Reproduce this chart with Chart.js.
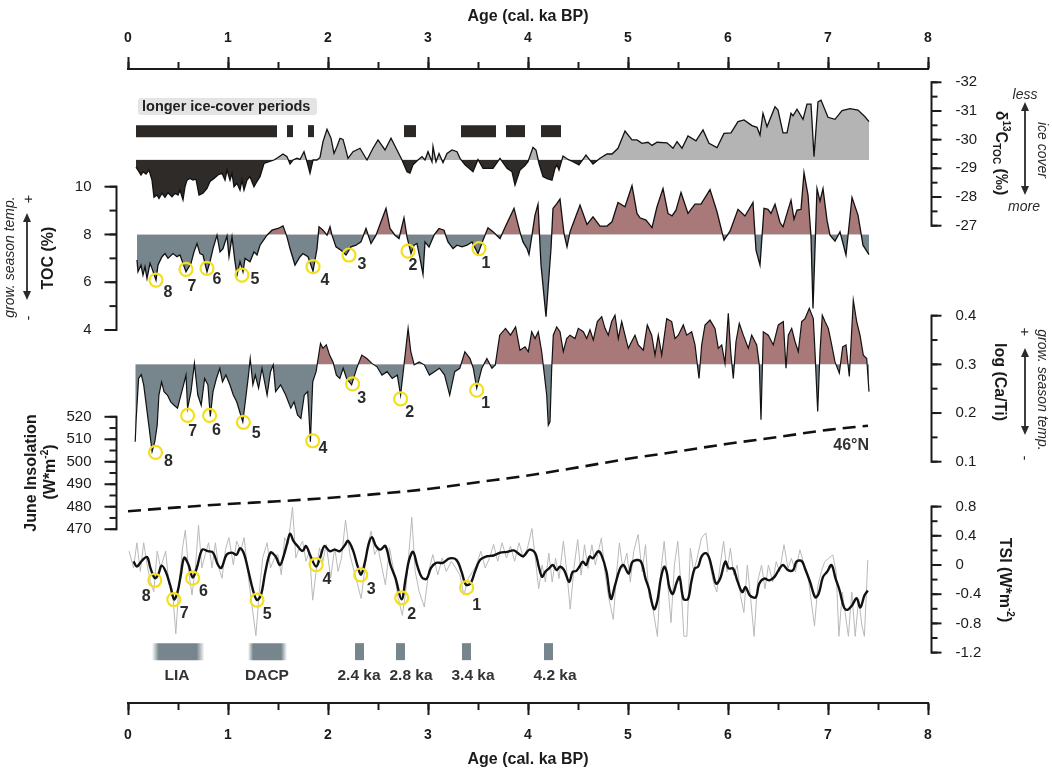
<!DOCTYPE html>
<html>
<head>
<meta charset="utf-8">
<title>Holocene ice cover, TOC, Ca/Ti, insolation and TSI</title>
<script src="https://cdn.jsdelivr.net/npm/chart.js@4.4.1/dist/chart.umd.min.js"></script>
<style>
  html, body { margin: 0; padding: 0; background: #fff; }
</style>
</head>
<body>
<canvas id="chart" width="1052" height="768"></canvas>
<script>
// --- values, age in cal. ka BP ---

// d13C TOC (permil), axis reversed
const d13c = [[0.08,-29.04],[0.10,-28.94],[0.13,-28.77],[0.15,-28.88],[0.18,-28.80],[0.21,-28.94],[0.24,-28.59],[0.26,-27.99],[0.29,-28.07],[0.31,-27.95],[0.34,-28.13],[0.37,-27.99],[0.40,-28.15],[0.44,-28.01],[0.47,-28.13],[0.50,-28.07],[0.52,-28.24],[0.55,-27.90],[0.57,-28.36],[0.59,-28.59],[0.62,-28.65],[0.65,-28.59],[0.68,-28.62],[0.71,-28.07],[0.75,-28.13],[0.79,-28.30],[0.82,-28.54],[0.86,-28.65],[0.90,-28.77],[0.94,-28.83],[0.97,-28.59],[0.99,-28.94],[1.02,-28.59],[1.04,-28.83],[1.06,-28.36],[1.09,-28.48],[1.12,-28.24],[1.14,-28.59],[1.16,-28.24],[1.19,-28.59],[1.22,-28.71],[1.26,-28.36],[1.29,-28.54],[1.32,-28.71],[1.36,-29.17],[1.41,-29.23],[1.46,-29.29],[1.50,-29.38],[1.55,-29.50],[1.59,-29.41],[1.62,-29.15],[1.65,-29.29],[1.69,-29.35],[1.72,-29.31],[1.76,-29.58],[1.79,-29.23],[1.82,-28.83],[1.85,-29.29],[1.89,-29.29],[1.92,-29.38],[1.95,-29.93],[1.99,-30.36],[2.03,-30.05],[2.06,-29.52],[2.09,-29.76],[2.12,-30.05],[2.15,-30.01],[2.17,-29.76],[2.20,-29.35],[2.25,-29.58],[2.32,-29.70],[2.39,-29.29],[2.45,-29.70],[2.50,-29.99],[2.57,-29.64],[2.63,-30.05],[2.69,-29.64],[2.74,-29.29],[2.79,-28.88],[2.82,-28.83],[2.85,-29.12],[2.90,-29.29],[2.94,-29.41],[2.97,-29.29],[3.00,-29.58],[3.04,-29.23],[3.05,-29.76],[3.08,-29.23],[3.11,-29.52],[3.15,-29.20],[3.19,-29.52],[3.24,-29.64],[3.29,-29.58],[3.32,-29.35],[3.37,-29.12],[3.45,-28.88],[3.50,-29.31],[3.55,-29.00],[3.65,-29.00],[3.72,-29.35],[3.79,-29.00],[3.84,-28.88],[3.87,-28.42],[3.92,-28.94],[3.97,-29.10],[4.00,-29.23],[4.05,-29.73],[4.08,-29.64],[4.11,-29.17],[4.15,-28.71],[4.19,-28.64],[4.24,-28.59],[4.27,-29.00],[4.29,-29.12],[4.31,-28.94],[4.35,-29.43],[4.40,-29.31],[4.45,-29.23],[4.51,-29.12],[4.58,-29.46],[4.65,-29.15],[4.72,-29.35],[4.79,-29.50],[4.84,-29.50],[4.90,-29.70],[4.97,-30.30],[5.04,-29.99],[5.09,-29.99],[5.14,-29.87],[5.20,-29.91],[5.24,-29.80],[5.29,-29.91],[5.39,-29.89],[5.45,-29.70],[5.49,-29.93],[5.54,-29.70],[5.60,-30.13],[5.68,-29.96],[5.75,-30.34],[5.81,-29.87],[5.89,-29.72],[5.96,-30.22],[6.03,-30.24],[6.10,-30.63],[6.16,-30.69],[6.24,-30.49],[6.29,-30.43],[6.32,-30.16],[6.35,-30.92],[6.39,-30.45],[6.47,-31.15],[6.50,-31.03],[6.55,-30.24],[6.59,-30.24],[6.63,-30.92],[6.65,-30.83],[6.69,-31.06],[6.75,-30.71],[6.79,-31.24],[6.83,-31.24],[6.86,-29.41],[6.90,-31.32],[6.93,-31.38],[7.00,-30.78],[7.07,-30.71],[7.14,-31.01],[7.22,-31.08],[7.30,-31.03],[7.37,-30.80],[7.41,-30.63]];
const d13cBase = -29.3;

// longer ice-cover periods (start, end)
const iceCover = [[0.08,1.49],[1.59,1.65],[1.80,1.86],[2.76,2.88],[3.33,3.68],[3.78,3.97],[4.13,4.33]];

// TOC (%)
const toc = [[0.09,6.93],[0.10,6.44],[0.13,6.72],[0.15,6.30],[0.17,6.65],[0.19,6.16],[0.22,6.79],[0.24,6.58],[0.28,6.09],[0.30,6.72],[0.34,7.07],[0.37,7.20],[0.40,7.00],[0.45,7.20],[0.49,7.07],[0.52,7.14],[0.55,6.79],[0.58,6.44],[0.63,6.79],[0.66,7.27],[0.69,7.62],[0.72,7.20],[0.75,7.14],[0.79,6.44],[0.82,6.86],[0.85,7.41],[0.89,7.97],[0.92,7.27],[0.95,7.41],[0.99,7.94],[1.01,7.07],[1.04,7.90],[1.07,6.86],[1.09,6.30],[1.12,6.86],[1.15,6.44],[1.17,7.00],[1.22,6.86],[1.26,7.27],[1.29,7.14],[1.32,7.55],[1.39,7.97],[1.44,8.18],[1.50,8.25],[1.55,8.36],[1.59,7.90],[1.62,7.41],[1.67,6.72],[1.72,7.07],[1.75,7.20],[1.80,7.07],[1.85,6.47],[1.89,7.41],[1.91,8.32],[1.95,8.18],[1.99,7.97],[2.02,8.32],[2.04,7.97],[2.08,7.48],[2.13,7.34],[2.18,7.14],[2.23,7.48],[2.28,7.55],[2.33,7.69],[2.38,8.25],[2.43,7.62],[2.48,7.97],[2.53,8.53],[2.58,9.09],[2.62,8.25],[2.67,7.97],[2.71,7.83],[2.76,8.70],[2.79,7.90],[2.83,7.20],[2.86,7.55],[2.89,7.62],[2.92,7.00],[2.95,6.33],[2.97,7.69],[3.01,7.48],[3.06,7.97],[3.11,8.25],[3.16,8.18],[3.20,7.69],[3.25,7.41],[3.29,7.55],[3.34,7.48],[3.39,7.55],[3.44,7.69],[3.50,7.20],[3.55,7.76],[3.60,8.28],[3.65,8.11],[3.72,7.83],[3.78,8.39],[3.86,9.09],[3.92,8.10],[3.95,7.69],[3.99,7.41],[4.01,7.16],[4.04,7.97],[4.07,8.81],[4.10,9.26],[4.13,6.72],[4.18,4.56],[4.23,7.41],[4.25,9.09],[4.29,9.30],[4.32,9.48],[4.36,8.04],[4.39,7.48],[4.42,8.11],[4.47,8.67],[4.52,9.23],[4.59,8.42],[4.65,8.74],[4.72,8.35],[4.79,8.35],[4.84,8.53],[4.90,9.34],[4.97,9.16],[5.04,10.04],[5.09,8.88],[5.12,8.70],[5.18,8.60],[5.24,8.29],[5.29,9.16],[5.35,9.92],[5.40,8.88],[5.44,8.78],[5.48,9.02],[5.53,9.76],[5.60,8.88],[5.67,9.27],[5.73,9.27],[5.82,9.88],[5.89,8.95],[5.96,7.76],[6.02,8.14],[6.10,9.05],[6.17,8.77],[6.25,9.34],[6.28,7.34],[6.32,6.72],[6.36,9.09],[6.40,9.05],[6.43,8.88],[6.47,9.27],[6.52,8.50],[6.55,8.32],[6.63,9.44],[6.66,8.64],[6.69,9.02],[6.73,9.05],[6.76,10.59],[6.80,9.65],[6.83,7.90],[6.85,4.90],[6.89,9.92],[6.92,9.39],[6.95,9.92],[6.99,8.60],[7.02,7.97],[7.07,7.72],[7.12,8.11],[7.18,7.14],[7.24,9.55],[7.30,8.81],[7.35,7.55],[7.41,7.16]];
const tocBase = 8;

// log (Ca/Ti)
const caTi = [[0.072,0.141],[0.082,0.189],[0.106,0.271],[0.133,0.279],[0.157,0.258],[0.208,0.175],[0.241,0.121],[0.268,0.141],[0.292,0.175],[0.309,0.237],[0.336,0.264],[0.36,0.244],[0.394,0.237],[0.427,0.223],[0.461,0.216],[0.495,0.21],[0.529,0.237],[0.563,0.264],[0.58,0.278],[0.596,0.21],[0.63,0.244],[0.664,0.302],[0.698,0.237],[0.732,0.216],[0.766,0.271],[0.799,0.258],[0.823,0.193],[0.85,0.244],[0.884,0.271],[0.918,0.292],[0.945,0.264],[0.979,0.278],[1.019,0.258],[1.053,0.237],[1.087,0.223],[1.127,0.196],[1.148,0.182],[1.181,0.237],[1.205,0.278],[1.222,0.312],[1.249,0.258],[1.273,0.278],[1.306,0.251],[1.34,0.292],[1.391,0.237],[1.425,0.285],[1.452,0.299],[1.476,0.244],[1.526,0.258],[1.577,0.237],[1.628,0.21],[1.661,0.223],[1.695,0.196],[1.729,0.189],[1.763,0.237],[1.797,0.244],[1.824,0.141],[1.847,0.264],[1.881,0.285],[1.925,0.343],[1.949,0.333],[1.983,0.34],[2.016,0.319],[2.05,0.305],[2.084,0.278],[2.118,0.271],[2.152,0.292],[2.186,0.271],[2.236,0.258],[2.287,0.292],[2.338,0.319],[2.388,0.312],[2.439,0.302],[2.49,0.295],[2.54,0.278],[2.591,0.285],[2.642,0.271],[2.693,0.278],[2.726,0.237],[2.76,0.299],[2.801,0.374],[2.828,0.326],[2.862,0.299],[2.912,0.305],[2.963,0.299],[3.014,0.278],[3.064,0.285],[3.115,0.292],[3.166,0.278],[3.217,0.237],[3.267,0.285],[3.318,0.292],[3.369,0.326],[3.42,0.312],[3.453,0.292],[3.487,0.251],[3.538,0.292],[3.589,0.312],[3.639,0.292],[3.673,0.299],[3.717,0.36],[3.775,0.374],[3.825,0.36],[3.876,0.377],[3.92,0.329],[3.97,0.336],[4.003,0.326],[4.037,0.367],[4.07,0.353],[4.103,0.367],[4.137,0.326],[4.16,0.285],[4.187,0.237],[4.203,0.175],[4.22,0.182],[4.237,0.292],[4.253,0.36],[4.287,0.377],[4.32,0.367],[4.353,0.326],[4.387,0.353],[4.42,0.36],[4.47,0.353],[4.503,0.374],[4.553,0.367],[4.587,0.353],[4.62,0.371],[4.653,0.35],[4.693,0.388],[4.737,0.398],[4.77,0.374],[4.803,0.36],[4.837,0.388],[4.87,0.401],[4.903,0.353],[4.937,0.388],[4.97,0.36],[5.003,0.333],[5.037,0.347],[5.07,0.36],[5.103,0.34],[5.153,0.329],[5.193,0.381],[5.237,0.36],[5.27,0.319],[5.303,0.36],[5.337,0.319],[5.387,0.394],[5.437,0.388],[5.47,0.353],[5.503,0.36],[5.553,0.381],[5.587,0.36],[5.637,0.367],[5.67,0.34],[5.71,0.271],[5.737,0.34],[5.77,0.381],[5.82,0.391],[5.87,0.374],[5.903,0.333],[5.937,0.34],[5.97,0.302],[6.003,0.405],[6.027,0.326],[6.053,0.271],[6.08,0.347],[6.113,0.384],[6.153,0.36],[6.203,0.333],[6.237,0.36],[6.287,0.34],[6.313,0.299],[6.33,0.186],[6.353,0.367],[6.403,0.36],[6.453,0.34],[6.503,0.381],[6.553,0.388],[6.58,0.292],[6.603,0.36],[6.637,0.374],[6.67,0.347],[6.703,0.326],[6.737,0.388],[6.77,0.394],[6.813,0.415],[6.853,0.394],[6.87,0.326],[6.897,0.203],[6.92,0.326],[6.943,0.401],[6.97,0.388],[7.003,0.374],[7.037,0.34],[7.07,0.305],[7.113,0.282],[7.147,0.336],[7.18,0.34],[7.213,0.275],[7.253,0.432],[7.287,0.388],[7.32,0.36],[7.353,0.319],[7.387,0.312],[7.41,0.244]];
const caTiBase = 0.3;

// June insolation at 46°N (W m-2)
const insAge = [0, 0.5, 1, 1.5, 2, 2.5, 3, 3.5, 4, 4.5, 5, 5.5, 6, 6.5, 7, 7.4];
const insVal = [478, 479.7, 481.2, 482.4, 483.9, 485.7, 487.9, 490.9, 493.9, 497.5, 501.3, 504.6, 508, 511, 514.2, 516];

// TSI anomaly (W m-2): raw (grey) and smoothed (black)
const tsiRaw = [[0.011,0.19],[0.055,-0.04],[0.089,0.305],[0.123,-0.088],[0.157,0.305],[0.191,0.004],[0.224,-0.227],[0.258,-0.366],[0.292,0.19],[0.326,-0.04],[0.377,0.19],[0.41,-0.273],[0.444,-0.32],[0.478,-0.945],[0.512,-0.227],[0.546,0.236],[0.573,0.477],[0.607,-0.088],[0.64,-0.412],[0.674,-0.04],[0.705,0.546],[0.738,-0.04],[0.772,0.143],[0.806,0.305],[0.84,-0.04],[0.874,0.305],[0.907,-0.04],[0.941,-0.181],[0.975,0.213],[1.009,0.375],[1.053,0.004],[1.087,0.328],[1.127,0.19],[1.161,0.375],[1.205,-0.181],[1.239,-0.551],[1.279,-0.968],[1.313,-0.366],[1.347,0.097],[1.391,0.305],[1.425,-0.04],[1.465,0.097],[1.499,0.143],[1.533,-0.135],[1.567,0.375],[1.601,0.282],[1.645,0.792],[1.678,0.097],[1.712,0.236],[1.746,0.328],[1.78,0.051],[1.814,0.19],[1.847,-0.482],[1.881,-0.088],[1.915,0.236],[1.949,0.051],[1.983,0.282],[2.027,-0.181],[2.067,0.236],[2.101,-0.088],[2.135,0.097],[2.175,0.616],[2.219,0.143],[2.253,-0.04],[2.297,-0.273],[2.331,-0.459],[2.365,-0.088],[2.399,0.282],[2.432,0.467],[2.466,0.143],[2.5,0.236],[2.534,0.004],[2.574,-0.273],[2.615,0.236],[2.659,-0.088],[2.703,-0.459],[2.743,-0.69],[2.777,-0.366],[2.838,0.653],[2.872,-0.088],[2.912,-0.366],[2.963,-0.575],[3.007,-0.088],[3.048,0.143],[3.098,-0.135],[3.142,0.097],[3.183,-0.088],[3.234,0.051],[3.277,-0.04],[3.318,-0.135],[3.359,-0.412],[3.403,-0.181],[3.447,-0.088],[3.487,0.004],[3.528,0.19],[3.572,-0.04],[3.616,0.097],[3.656,0.282],[3.697,0.051],[3.741,0.305],[3.785,0.097],[3.825,0.259],[3.866,0.051],[3.91,0.305],[3.954,0.097],[3.995,0.232],[4.039,0.5],[4.073,0.093],[4.107,-0.326],[4.141,0.0],[4.174,-0.233],[4.208,0.162],[4.242,-0.233],[4.276,0.093],[4.31,-0.186],[4.354,0.325],[4.388,-0.093],[4.422,-0.605],[4.463,0.0],[4.497,0.348],[4.531,-0.14],[4.565,0.278],[4.599,-0.047],[4.639,0.278],[4.673,0.0],[4.734,0.371],[4.768,-0.093],[4.809,-0.465],[4.853,-0.744],[4.887,-0.093],[4.914,0.302],[4.948,-0.047],[4.989,0.162],[5.023,-0.233],[5.057,0.186],[5.101,0.418],[5.141,-0.093],[5.175,0.278],[5.209,-0.419],[5.25,-0.605],[5.294,-0.977],[5.328,-0.093],[5.362,0.325],[5.396,-0.233],[5.43,-0.79],[5.464,0.0],[5.498,0.325],[5.532,-0.326],[5.559,-0.977],[5.589,-0.977],[5.623,0.232],[5.657,-0.093],[5.691,0.093],[5.735,0.371],[5.779,0.441],[5.813,0.046],[5.854,-0.233],[5.888,-0.372],[5.922,0.0],[5.956,0.325],[5.99,-0.093],[6.024,0.232],[6.058,-0.14],[6.092,0.0],[6.125,-0.419],[6.159,-0.651],[6.193,0.0],[6.227,-0.465],[6.261,-0.977],[6.295,-0.233],[6.336,0.0],[6.37,-0.326],[6.404,0.0],[6.448,-0.233],[6.482,0.046],[6.516,-0.093],[6.56,0.278],[6.6,-0.047],[6.634,0.093],[6.675,-0.093],[6.719,0.209],[6.763,0.0],[6.804,-0.186],[6.838,-0.558],[6.865,-0.837],[6.899,-0.279],[6.933,-0.093],[6.967,0.046],[7.008,0.093],[7.048,0.139],[7.082,-0.093],[7.109,-0.977],[7.143,-0.372],[7.171,-0.651],[7.204,-0.977],[7.238,-0.372],[7.272,-0.977],[7.306,-0.465],[7.34,-0.837],[7.364,-0.977],[7.398,0.069]];
const tsiSmooth = [[0.055,0.05],[0.089,-0.02],[0.14,0.06],[0.19,0.11],[0.224,-0.04],[0.268,-0.18],[0.302,-0.13],[0.336,-0.01],[0.377,-0.09],[0.42,-0.27],[0.461,-0.47],[0.495,-0.37],[0.529,-0.13],[0.562,0.10],[0.606,0.0],[0.647,-0.17],[0.688,-0.04],[0.742,0.21],[0.799,0.19],[0.85,0.17],[0.9,0.0],[0.934,-0.04],[0.985,0.14],[1.036,0.17],[1.086,0.14],[1.12,0.23],[1.161,0.15],[1.205,-0.09],[1.249,-0.34],[1.289,-0.48],[1.33,-0.41],[1.374,-0.09],[1.425,0.17],[1.475,0.12],[1.519,0.0],[1.56,0.14],[1.594,0.31],[1.621,0.43],[1.654,0.33],[1.695,0.26],[1.746,0.19],[1.78,0.26],[1.823,0.13],[1.881,-0.02],[1.925,0.12],[1.965,0.26],[2.016,0.19],[2.067,0.21],[2.118,0.19],[2.168,0.27],[2.202,0.33],[2.253,0.19],[2.297,-0.02],[2.331,-0.13],[2.371,0.05],[2.405,0.28],[2.439,0.38],[2.479,0.26],[2.523,0.21],[2.574,0.26],[2.625,0.0],[2.675,-0.18],[2.736,-0.47],[2.777,-0.18],[2.811,0.07],[2.851,0.18],[2.895,-0.02],[2.939,-0.17],[2.986,-0.19],[3.03,-0.04],[3.081,0.03],[3.149,0.03],[3.216,0.09],[3.284,0.07],[3.335,-0.09],[3.379,-0.27],[3.426,-0.25],[3.47,-0.09],[3.521,0.07],[3.588,0.12],[3.656,0.13],[3.723,0.17],[3.791,0.18],[3.859,0.20],[3.92,0.14],[3.954,0.12],[4.015,0.21],[4.073,0.16],[4.107,-0.02],[4.141,-0.16],[4.174,-0.09],[4.208,-0.05],[4.249,0.0],[4.286,-0.07],[4.32,-0.024],[4.361,-0.07],[4.412,-0.233],[4.446,-0.093],[4.48,-0.084],[4.514,-0.024],[4.548,0.046],[4.582,0.0],[4.616,0.116],[4.65,0.093],[4.70,0.186],[4.734,0.139],[4.785,-0.093],[4.829,-0.465],[4.87,-0.279],[4.921,-0.047],[4.955,0.0],[5.006,-0.117],[5.047,0.046],[5.125,0.055],[5.175,-0.186],[5.209,-0.326],[5.26,-0.605],[5.294,-0.488],[5.328,-0.186],[5.362,-0.024],[5.386,-0.093],[5.413,-0.303],[5.447,-0.396],[5.488,-0.233],[5.515,-0.163],[5.555,-0.465],[5.6,-0.465],[5.633,-0.233],[5.667,-0.047],[5.701,-0.024],[5.735,0.116],[5.779,0.162],[5.813,0.093],[5.847,-0.093],[5.881,-0.256],[5.922,-0.186],[5.973,0.046],[6.007,-0.047],[6.051,-0.047],[6.092,-0.21],[6.142,-0.372],[6.176,-0.303],[6.22,-0.419],[6.278,-0.442],[6.312,-0.256],[6.363,-0.186],[6.414,-0.21],[6.465,-0.163],[6.516,-0.047],[6.55,0.0],[6.6,-0.07],[6.651,-0.07],[6.685,0.046],[6.736,0.055],[6.77,-0.047],[6.821,-0.233],[6.872,-0.442],[6.906,-0.396],[6.95,-0.163],[6.991,-0.093],[7.035,0.0],[7.076,-0.186],[7.116,-0.349],[7.16,-0.581],[7.194,-0.614],[7.238,-0.558],[7.286,-0.456],[7.323,-0.581],[7.364,-0.419],[7.398,-0.349]];

// numbered cold events (yellow circles) and where their numbers sit
const eventNames = ['8', '7', '6', '5', '4', '3', '2', '1'];
const tocEvents = [[0.28,6.09],[0.58,6.54],[0.79,6.58],[1.14,6.30],[1.85,6.65],[2.21,7.14],[2.80,7.30],[3.51,7.41]];
const tocEventLabels = [[0.40,5.58],[0.64,5.81],[0.89,6.09],[1.27,6.09],[1.97,6.06],[2.34,6.72],[2.85,6.68],[3.58,6.79]];
const caTiEvents = [[0.275,0.119],[0.596,0.195],[0.816,0.195],[1.154,0.181],[1.847,0.143],[2.246,0.26],[2.726,0.229],[3.487,0.247]];
const caTiEventLabels = [[0.404,0.10],[0.647,0.162],[0.884,0.163],[1.283,0.158],[1.949,0.126],[2.338,0.23],[2.818,0.20],[3.578,0.219]];
const tsiEvents = [[0.268,-0.209],[0.458,-0.473],[0.647,-0.181],[1.29,-0.482],[1.881,0.004],[2.327,-0.135],[2.737,-0.449],[3.386,-0.31]];
const tsiEventLabels = [[0.181,-0.426],[0.563,-0.667],[0.755,-0.366],[1.391,-0.681],[1.99,-0.204],[2.432,-0.343],[2.838,-0.681],[3.487,-0.551]];

// cold periods at the bottom
const periods = [[0.24,0.765],[1.20,1.59],[2.27,2.36],[2.68,2.77],[3.34,3.43],[4.16,4.25]];
const periodNames = ['LIA', 'DACP', '2.4 ka', '2.8 ka', '3.4 ka', '4.2 ka'];
const periodLabelAge = [0.49, 1.39, 2.31, 2.83, 3.45, 4.27];
const periodFade = [true, true, false, false, false, false];

// axis ticks
const ageTicks = [0, 1, 2, 3, 4, 5, 6, 7, 8];
const tocTicks = [4, 6, 8, 10];
const insTicks = [470, 480, 490, 500, 510, 520];
const d13Ticks = [-32, -31, -30, -29, -28, -27];
const caTiTicks = [0.1, 0.2, 0.3, 0.4];
const tsiTicks = [-1.2, -0.8, -0.4, 0, 0.4, 0.8];

// --- layout and styles ---
const FONT = '"Liberation Sans", Arial, Helvetica, sans-serif';
const INK = '#1b1b1b';
const AREA = { left: 128, right: 928, top: 69, bottom: 703 };
const LEFT_AXIS_X = 116.5;
const RIGHT_AXIS_X = 931.5;
const WARM = '#a97878';
const COLD = '#77858c';
const YELLOW = '#f3df1d';
const ICE_LEVEL = 0.902;    // position on the hidden band scale
const PERIOD_LEVEL = 0.081;

// each panel's own y scale, laid over the same chart area:
// the range is found from two tick positions of that panel
function fitScale(v1, y1, v2, y2) {
  const r = (v2 - v1) / (y2 - y1);
  const vTop = v1 + (AREA.top - y1) * r;
  const vBot = v1 + (AREA.bottom - y1) * r;
  return vTop > vBot
    ? { type: 'linear', display: false, min: vBot, max: vTop, reverse: false }
    : { type: 'linear', display: false, min: vTop, max: vBot, reverse: true };
}

const pts = arr => arr.map(p => ({ x: p[0], y: p[1] }));

const datasets = [];

datasets.push({
  data: pts(d13c), yAxisID: 'yD13', order: 8,
  borderColor: '#111', borderWidth: 1.3, pointRadius: 0, tension: 0,
  fill: { target: { value: d13cBase }, above: '#b4b4b4', below: '#2e2b29' }
});
datasets.push({
  data: pts(toc), yAxisID: 'yToc', order: 7,
  borderColor: '#111', borderWidth: 1.3, pointRadius: 0, tension: 0,
  fill: { target: { value: tocBase }, above: WARM, below: COLD }
});
datasets.push({
  data: pts(caTi), yAxisID: 'yCaTi', order: 6,
  borderColor: '#111', borderWidth: 1.2, pointRadius: 0, tension: 0,
  fill: { target: { value: caTiBase }, above: WARM, below: COLD }
});
datasets.push({
  data: insAge.map((a, i) => ({ x: a, y: insVal[i] })), yAxisID: 'yIns', order: 5,
  borderColor: '#111', borderWidth: 2.6, borderDash: [13, 7], pointRadius: 0,
  cubicInterpolationMode: 'monotone', fill: false
});
datasets.push({
  data: pts(tsiRaw), yAxisID: 'yTsi', order: 4,
  borderColor: '#b9b9b9', borderWidth: 1, pointRadius: 0, tension: 0, fill: false
});
datasets.push({
  data: pts(tsiSmooth), yAxisID: 'yTsi', order: 3,
  borderColor: '#111', borderWidth: 2.4, pointRadius: 0, tension: 0.35, fill: false
});

iceCover.forEach(([a, b]) => datasets.push({
  data: [{ x: a, y: ICE_LEVEL }, { x: b, y: ICE_LEVEL }], yAxisID: 'yBand', order: 2,
  borderColor: '#2b2826', borderWidth: 12, borderCapStyle: 'butt', pointRadius: 0, fill: false
}));

periods.forEach(([a, b], i) => datasets.push({
  data: [{ x: a, y: PERIOD_LEVEL }, { x: b, y: PERIOD_LEVEL }], yAxisID: 'yBand', order: 2,
  borderWidth: 17, borderCapStyle: 'butt', pointRadius: 0, fill: false,
  borderColor(ctx) {
    const chart = ctx.chart;
    if (!periodFade[i] || !chart.chartArea) return COLD;
    const xs = chart.scales.x;
    const g = chart.ctx.createLinearGradient(xs.getPixelForValue(a), 0, xs.getPixelForValue(b), 0);
    g.addColorStop(0, 'rgba(119,133,140,0)');
    g.addColorStop(0.13, COLD);
    g.addColorStop(0.85, COLD);
    g.addColorStop(1, 'rgba(119,133,140,0)');
    return g;
  }
}));

[[tocEvents, 'yToc'], [caTiEvents, 'yCaTi'], [tsiEvents, 'yTsi']].forEach(([ev, id]) => datasets.push({
  data: pts(ev), yAxisID: id, order: 1, showLine: false,
  pointRadius: 6.5, pointBorderWidth: 2.2, pointBorderColor: YELLOW, pointBackgroundColor: 'rgba(0,0,0,0)'
}));

// --- drawing helpers for the panel axes and annotations ---
function text(ctx, s, x, y, o) {
  ctx.save();
  ctx.font = `${o.style || 'normal'} ${o.weight || 'normal'} ${o.size}px ${FONT}`;
  ctx.fillStyle = o.color || INK;
  ctx.textAlign = o.align || 'center';
  ctx.textBaseline = 'middle';
  ctx.translate(x, y);
  if (o.rot) ctx.rotate(o.rot);
  ctx.fillText(s, 0, 0);
  ctx.restore();
}

// bold text with super- and subscripts, centred on (x, y)
function richText(ctx, parts, x, y, rot, size) {
  ctx.save();
  ctx.translate(x, y);
  ctx.rotate(rot);
  ctx.fillStyle = INK;
  ctx.textAlign = 'left';
  ctx.textBaseline = 'alphabetic';
  const fontOf = p => `bold ${p.sup || p.sub ? Math.round(size * 0.6) : size}px ${FONT}`;
  let w = 0;
  parts.forEach(p => { ctx.font = fontOf(p); w += ctx.measureText(p.t).width; });
  let cx = -w / 2;
  parts.forEach(p => {
    ctx.font = fontOf(p);
    const dy = p.sup ? -size * 0.42 : p.sub ? size * 0.2 : 0;
    ctx.fillText(p.t, cx, size * 0.36 + dy);
    cx += ctx.measureText(p.t).width;
  });
  ctx.restore();
}

function doubleArrow(ctx, x, y1, y2) {
  const h = 9, w = 4;
  ctx.save();
  ctx.strokeStyle = ctx.fillStyle = '#2a2a2a';
  ctx.lineWidth = 1.8;
  ctx.beginPath(); ctx.moveTo(x, y1 + h - 1); ctx.lineTo(x, y2 - h + 1); ctx.stroke();
  ctx.beginPath(); ctx.moveTo(x, y1); ctx.lineTo(x - w, y1 + h); ctx.lineTo(x + w, y1 + h); ctx.closePath(); ctx.fill();
  ctx.beginPath(); ctx.moveTo(x, y2); ctx.lineTo(x - w, y2 - h); ctx.lineTo(x + w, y2 - h); ctx.closePath(); ctx.fill();
  ctx.restore();
}

const yAxisDefs = [
  { id: 'yToc', side: 'left', ticks: tocTicks, minor: 1, fmt: v => String(v) },
  { id: 'yIns', side: 'left', ticks: insTicks, minor: 5, fmt: v => String(v) },
  { id: 'yD13', side: 'right', ticks: d13Ticks, minor: 0.5, fmt: v => String(v) },
  { id: 'yCaTi', side: 'right', ticks: caTiTicks, minor: 0.05, fmt: v => v.toFixed(1) },
  { id: 'yTsi', side: 'right', ticks: tsiTicks, minor: 0.2, fmt: v => (v === 0 ? '0' : v.toFixed(1)) }
];

const panelAxes = {
  id: 'panelAxes',
  afterDraw(chart) {
    const ctx = chart.ctx;
    const xs = chart.scales.x;

    // y axes of the five panels
    yAxisDefs.forEach(ax => {
      const s = chart.scales[ax.id];
      const left = ax.side === 'left';
      const x0 = left ? LEFT_AXIS_X : RIGHT_AXIS_X;
      const dir = left ? -1 : 1;
      const major = left ? 12 : 10, minor = left ? 7 : 6;
      const lo = ax.ticks[0], hi = ax.ticks[ax.ticks.length - 1];
      ctx.save();
      ctx.strokeStyle = INK;
      ctx.lineWidth = 2;
      ctx.beginPath();
      ctx.moveTo(x0, s.getPixelForValue(lo) + (s.getPixelForValue(lo) > s.getPixelForValue(hi) ? 1 : -1));
      ctx.lineTo(x0, s.getPixelForValue(hi) + (s.getPixelForValue(lo) > s.getPixelForValue(hi) ? -1 : 1));
      ctx.stroke();
      const n = Math.round((hi - lo) / ax.minor);
      for (let i = 0; i <= n; i++) {
        const y = s.getPixelForValue(lo + i * ax.minor);
        ctx.beginPath(); ctx.moveTo(x0, y); ctx.lineTo(x0 + dir * minor, y); ctx.stroke();
      }
      ax.ticks.forEach(v => {
        const y = s.getPixelForValue(v);
        ctx.beginPath(); ctx.moveTo(x0, y); ctx.lineTo(x0 + dir * major, y); ctx.stroke();
        text(ctx, ax.fmt(v), left ? x0 - 25 : x0 + 24, y, { size: 15, align: left ? 'right' : 'left' });
      });
      ctx.restore();
    });

    // axis titles
    richText(ctx, [{ t: 'TOC (%)' }], 47, 258, -Math.PI / 2, 16);
    richText(ctx, [{ t: 'June Insolation' }], 30, 473, -Math.PI / 2, 16);
    richText(ctx, [{ t: '(W*m' }, { t: '-2', sup: true }, { t: ')' }], 49, 472, -Math.PI / 2, 16);
    richText(ctx, [{ t: 'δ' }, { t: '13', sup: true }, { t: 'C' }, { t: 'TOC', sub: true }, { t: ' (‰)' }], 1002, 153, Math.PI / 2, 16);
    richText(ctx, [{ t: 'log (Ca/Ti)' }], 1001, 382, Math.PI / 2, 16);
    richText(ctx, [{ t: 'TSI (W*m' }, { t: '-2', sup: true }, { t: ')' }], 1006, 580, Math.PI / 2, 16);

    // interpretation arrows
    text(ctx, 'grow. season temp.', 10, 257, { size: 14, style: 'italic', rot: -Math.PI / 2, color: '#2a2a2a' });
    text(ctx, '+', 29, 199, { size: 15, rot: -Math.PI / 2, color: '#2a2a2a' });
    text(ctx, '-', 29, 318, { size: 15, rot: -Math.PI / 2, color: '#2a2a2a' });
    doubleArrow(ctx, 27, 213, 300);

    text(ctx, 'less', 1025, 95, { size: 14, style: 'italic', color: '#2a2a2a' });
    text(ctx, 'more', 1024, 207, { size: 14, style: 'italic', color: '#2a2a2a' });
    text(ctx, 'ice cover', 1042, 150, { size: 14, style: 'italic', rot: Math.PI / 2, color: '#2a2a2a' });
    doubleArrow(ctx, 1025, 102, 195);

    text(ctx, '+', 1024, 332, { size: 15, rot: Math.PI / 2, color: '#2a2a2a' });
    text(ctx, '-', 1024, 458, { size: 15, rot: Math.PI / 2, color: '#2a2a2a' });
    text(ctx, 'grow. season temp.', 1042, 390, { size: 14, style: 'italic', rot: Math.PI / 2, color: '#2a2a2a' });
    doubleArrow(ctx, 1025, 348, 435);

    // label box for the ice-cover bars
    ctx.save();
    ctx.fillStyle = '#e4e4e4';
    ctx.beginPath();
    ctx.roundRect(138, 98, 179, 17, 3);
    ctx.fill();
    ctx.restore();
    text(ctx, 'longer ice-cover periods', 142, 107, { size: 14.5, weight: 'bold', align: 'left', color: '#222' });

    // numbers beside the yellow circles
    [[tocEventLabels, 'yToc'], [caTiEventLabels, 'yCaTi'], [tsiEventLabels, 'yTsi']].forEach(([lab, id]) => {
      const s = chart.scales[id];
      lab.forEach((p, i) => text(ctx, eventNames[i], xs.getPixelForValue(p[0]), s.getPixelForValue(p[1]),
        { size: 16, weight: 'bold', color: '#2b2b2b' }));
    });

    // names of the cold periods
    periodNames.forEach((nm, i) => text(ctx, nm, xs.getPixelForValue(periodLabelAge[i]), 676,
      { size: 15.5, weight: 'bold', color: '#333' }));

    // latitude of the insolation curve
    text(ctx, '46°N', xs.getPixelForValue(insAge[insAge.length - 1]) + 1, chart.scales.yIns.getPixelForValue(507.3),
      { size: 16, weight: 'bold', align: 'right', color: '#333' });
  }
};

const ageAxis = (position, weight, major) => ({
  type: 'linear', position, weight, min: 0, max: 8,
  ticks: major
    ? { stepSize: 1, autoSkip: false, maxRotation: 0, padding: position === 'top' ? 10 : 12,
        color: INK, font: { family: FONT, size: 14, weight: 'bold' } }
    : { stepSize: 0.5, display: false },
  grid: { drawOnChartArea: false, tickLength: major ? 12 : 7, tickWidth: 2, tickColor: INK },
  border: major ? { display: true, width: 2, color: INK } : { display: false },
  title: major
    ? { display: true, text: 'Age (cal. ka BP)', color: INK,
        font: { family: FONT, size: 16, weight: 'bold', lineHeight: 1 },
        padding: position === 'top' ? { top: 9, bottom: 0 } : { top: 0, bottom: 0 } }
    : { display: false },
  afterFit(scale) {
    scale.height = major ? (position === 'top' ? AREA.top : 768 - AREA.bottom) : 0;
  }
});

new Chart(document.getElementById('chart'), {
  type: 'line',
  data: { datasets },
  options: {
    responsive: false,
    devicePixelRatio: 1,
    animation: false,
    events: [],
    layout: { padding: { left: AREA.left, right: 1052 - AREA.right, top: 0, bottom: 0 } },
    plugins: { legend: { display: false }, tooltip: { enabled: false } },
    scales: {
      x: ageAxis('bottom', 1, true),
      xMinor: ageAxis('bottom', 0, false),
      xTop: ageAxis('top', 1, true),
      xTopMinor: ageAxis('top', 0, false),
      yToc: fitScale(10, 186.7, 4, 330),
      yIns: fitScale(520, 416.8, 470, 529.2),
      yD13: fitScale(-32, 82.3, -27, 225.7),
      yCaTi: fitScale(0.4, 315.7, 0.1, 461.7),
      yTsi: fitScale(0.8, 506.6, -1.2, 652.6),
      yBand: { type: 'linear', display: false, min: 0, max: 1 }
    }
  },
  plugins: [panelAxes]
});
</script>
</body>
</html>
